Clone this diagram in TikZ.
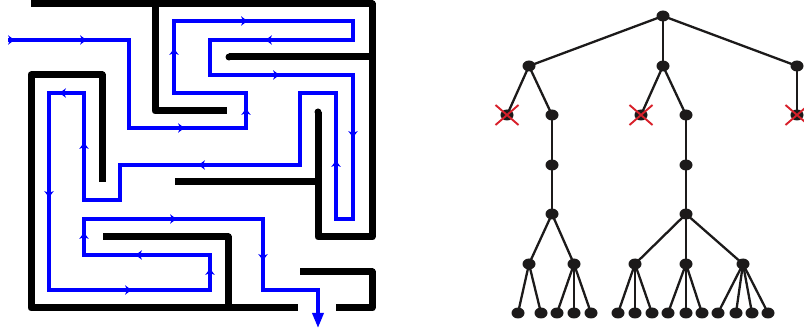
\documentclass[tikz,border=0pt]{standalone}
\usetikzlibrary{shapes.geometric,arrows.meta}
\definecolor{treeink}{HTML}{1C1A1A}
\definecolor{xred}{HTML}{D8202A}
\newcommand\mazemark[3]{\fill[blue, shift={(#1,#2)}, rotate=#3] (3.5,0) -- (-3,4.8) -- (-1,0) -- (-3,-4.8) -- cycle;}
\tikzset{
  wall/.style={line width=7pt, line join=round, black},
  route/.style={line width=3.4pt, blue, line join=miter},
  tnode/.style={ellipse, fill=treeink, minimum width=13pt, minimum height=11pt, inner sep=0pt},
  tedge/.style={line width=2.3pt, treeink},
  cut/.style={line width=1.9pt, xred},
}
\begin{document}
\begin{tikzpicture}[x=1pt,y=-1pt]
\useasboundingbox (0,0) rectangle (804,331);
\fill[white] (0,0) rectangle (804,331);
% ---- maze walls ----
\draw[wall] (31,4) -- (372,4) -- (372,237) -- (318,237) -- (318,112);
\fill (318,112) circle (3.5pt);
\draw[wall] (155,4) -- (155,111) -- (227,111);
\draw[wall] (229,57) -- (372,57);
\fill (229,57) circle (3.5pt);
\draw[wall] (102,182) -- (102,75) -- (31,75) -- (31,308) -- (298,308);
\draw[wall] (175,182) -- (318,182);
\draw[wall] (103,237) -- (228,237) -- (228,308);
\draw[wall] (300,272) -- (372,272) -- (372,308) -- (336,308);
% ---- route ----
\draw[route, -{Triangle[length=15pt,width=11pt]}]
  (8,40) -- (129,40) -- (129,128) -- (246,128) -- (246,93) -- (174,93)
  -- (174,21) -- (353,21) -- (353,40) -- (210,40) -- (210,75) -- (353,75)
  -- (353,219) -- (336,219) -- (336,93) -- (300,93) -- (300,165) -- (120,165)
  -- (120,200) -- (84,200) -- (84,93) -- (49,93) -- (49,290) -- (210,290)
  -- (210,255) -- (84,255) -- (84,219) -- (263,219) -- (263,290) -- (318,290)
  -- (318,328);
\mazemark{11}{40}{0}
\mazemark{83}{40}{0}
\mazemark{181}{128}{0}
\mazemark{246}{112}{90}
\mazemark{174}{52}{90}
\mazemark{244}{21}{0}
\mazemark{269}{40}{180}
\mazemark{276}{75}{0}
\mazemark{353}{134}{270}
\mazemark{336}{164}{90}
\mazemark{202}{165}{180}
\mazemark{84}{146}{90}
\mazemark{63}{93}{180}
\mazemark{49}{194}{270}
\mazemark{128}{290}{0}
\mazemark{210}{272}{90}
\mazemark{139}{255}{180}
\mazemark{84}{236}{90}
\mazemark{173}{219}{0}
\mazemark{263}{257}{270}
% ---- tree ----
\node[tnode] (r) at (663,16) {};
\node[tnode] (a) at (529,66) {};
\node[tnode] (b) at (663,66) {};
\node[tnode] (c) at (797,66) {};
\node[tnode] (ax) at (507,115) {};
\node[tnode] (a2) at (552,115) {};
\node[tnode] (bx) at (641,115) {};
\node[tnode] (b2) at (686,115) {};
\node[tnode] (cx) at (797,115) {};
\node[tnode] (a3) at (552,165) {};
\node[tnode] (b3) at (686,165) {};
\node[tnode] (a4) at (552,214) {};
\node[tnode] (b4) at (686,214) {};
\node[tnode] (a5) at (529,264) {};
\node[tnode] (a6) at (574,264) {};
\node[tnode] (b5) at (635,264) {};
\node[tnode] (b6) at (686,264) {};
\node[tnode] (b7) at (743,264) {};
\foreach \n/\x in {l1/518,l2/541,l3/557,l4/574,l5/591,l6/618,l7/635,l8/652,l9/668,l10/686,l11/702,l12/718,l13/736,l14/752,l15/768}
  \node[tnode] (\n) at (\x,313) {};
\foreach \p/\q in {r/a,r/b,r/c,a/ax,a/a2,b/bx,b/b2,c/cx,a2/a3,a3/a4,b2/b3,b3/b4,
  a4/a5,a4/a6,b4/b5,b4/b6,b4/b7,a5/l1,a5/l2,a6/l3,a6/l4,a6/l5,b5/l6,b5/l7,b5/l8,
  b6/l9,b6/l10,b6/l11,b7/l12,b7/l13,b7/l14,b7/l15}
  \draw[tedge] (\p.center) -- (\q.center);
\foreach \n in {ax,bx,cx}
  \draw[cut] ([shift={(-11.5,-10)}]\n.center) -- ([shift={(11.5,10)}]\n.center)
             ([shift={(-11.5,10)}]\n.center) -- ([shift={(11.5,-10)}]\n.center);
\end{tikzpicture}
\end{document}
